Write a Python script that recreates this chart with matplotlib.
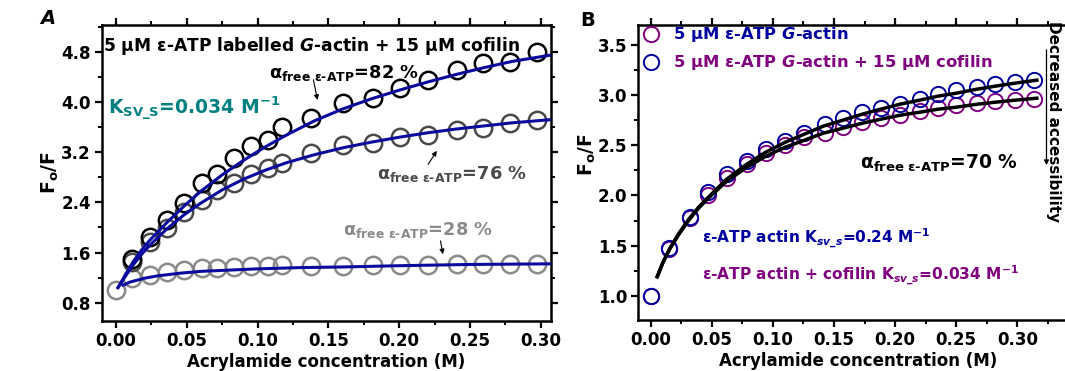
import matplotlib
matplotlib.use("Agg")
import matplotlib.pyplot as plt
from matplotlib.ticker import MultipleLocator

plt.rcParams['font.family'] = ['DejaVu Sans']
plt.rcParams['font.weight'] = 'bold'
plt.rcParams['mathtext.fontset'] = 'custom'
plt.rcParams['mathtext.rm'] = 'DejaVu Sans:bold'
plt.rcParams['mathtext.it'] = 'DejaVu Sans:bold:italic'
plt.rcParams['mathtext.bf'] = 'DejaVu Sans:bold'
plt.rcParams['mathtext.default'] = 'rm'

# ---------------- Panel A data ----------------
xa = [0.0115, 0.024, 0.036, 0.048, 0.0605, 0.071, 0.083, 0.095, 0.107, 0.117,
      0.138, 0.160, 0.1815, 0.2005, 0.220, 0.241, 0.259, 0.278, 0.297]
a_82 = [1.50, 1.85, 2.12, 2.39, 2.71, 2.85, 3.11, 3.30, 3.40, 3.60,
        3.75, 3.99, 4.07, 4.23, 4.35, 4.51, 4.62, 4.64, 4.80]
a_76 = [1.45, 1.77, 1.99, 2.25, 2.44, 2.60, 2.71, 2.85, 2.95, 3.03,
        3.19, 3.32, 3.35, 3.44, 3.48, 3.56, 3.59, 3.67, 3.72]
xa28 = [0.0, 0.0115, 0.024, 0.036, 0.048, 0.0605, 0.071, 0.083, 0.095, 0.107, 0.117,
        0.138, 0.160, 0.1815, 0.2005, 0.220, 0.241, 0.259, 0.278, 0.297]
a_28 = [1.00, 1.19, 1.24, 1.29, 1.32, 1.35, 1.35, 1.37, 1.38, 1.39, 1.40,
        1.38, 1.39, 1.40, 1.40, 1.40, 1.41, 1.41, 1.41, 1.42]

fit_xa = [0.0014, 0.006, 0.012, 0.018, 0.024, 0.036, 0.048, 0.06, 0.075, 0.09, 0.105,
          0.12, 0.14, 0.16, 0.18, 0.20, 0.22, 0.24, 0.26, 0.28, 0.307]
fit_a82 = [1.04, 1.22, 1.45, 1.64, 1.80, 2.08, 2.34, 2.58, 2.84, 3.07, 3.28,
           3.47, 3.70, 3.89, 4.05, 4.19, 4.32, 4.44, 4.55, 4.65, 4.75]
fit_a76 = [1.04, 1.20, 1.40, 1.57, 1.72, 1.98, 2.20, 2.39, 2.60, 2.77, 2.91,
           3.03, 3.16, 3.27, 3.36, 3.44, 3.51, 3.57, 3.62, 3.67, 3.72]
fit_xa28 = [0.005, 0.01, 0.02, 0.03, 0.045, 0.06, 0.08, 0.10, 0.13, 0.16, 0.20, 0.25, 0.307]
fit_a28 = [1.08, 1.13, 1.19, 1.23, 1.27, 1.30, 1.32, 1.34, 1.36, 1.37, 1.39, 1.41, 1.42]

# ---------------- Panel B data ----------------
xb = [0.0, 0.0152, 0.0322, 0.0471, 0.0622, 0.0785, 0.0943, 0.110, 0.1255, 0.1427,
      0.1576, 0.173, 0.1885, 0.204, 0.220, 0.2354, 0.250, 0.2668, 0.282, 0.298, 0.314]
b_actin = [1.00, 1.478, 1.79, 2.03, 2.21, 2.345, 2.46, 2.54, 2.62, 2.717,
           2.777, 2.83, 2.877, 2.916, 2.966, 3.01, 3.05, 3.08, 3.11, 3.13, 3.155]
b_cofilin = [1.00, 1.47, 1.78, 2.00, 2.17, 2.31, 2.42, 2.50, 2.58, 2.62,
             2.68, 2.73, 2.77, 2.80, 2.84, 2.877, 2.90, 2.92, 2.94, 2.955, 2.966]

fit_xb = [0.0054, 0.01, 0.0157, 0.023, 0.031, 0.039, 0.047, 0.062, 0.0785, 0.094, 0.11,
          0.1255, 0.141, 0.157, 0.173, 0.188, 0.204, 0.22, 0.235, 0.25, 0.267, 0.282,
          0.298, 0.316]
fit_b_actin = [1.19, 1.33, 1.47, 1.62, 1.76, 1.88, 1.98, 2.16, 2.31, 2.43, 2.53,
               2.61, 2.69, 2.75, 2.81, 2.86, 2.91, 2.95, 2.99, 3.02, 3.06, 3.09,
               3.12, 3.15]
fit_b_cofilin = [1.19, 1.33, 1.47, 1.61, 1.75, 1.87, 1.97, 2.14, 2.28, 2.39, 2.48,
                 2.55, 2.62, 2.67, 2.72, 2.76, 2.80, 2.83, 2.86, 2.88, 2.91, 2.93,
                 2.95, 2.97]

BLUE_LINE = '#0a0a9e'
DARK_GREY = '#4a4a4a'
LIGHT_GREY = '#8a8a8a'
TEAL = '#008080'
BLUE = '#0000a0'
PURPLE = '#800080'

W, H = 1065, 371
fig = plt.figure(figsize=(W / 100, H / 100), dpi=100)


def px_axes(l, r, t, b):
    return fig.add_axes([l / W, 1 - b / H, (r - l) / W, (b - t) / H])


def style(ax):
    for s in ax.spines.values():
        s.set_linewidth(1.8)
    ax.tick_params(which='major', direction='out', length=5, width=1.6,
                   labelsize=12, pad=3, top=True, right=True)
    ax.tick_params(which='minor', direction='out', length=3, width=1.4,
                   top=True, right=True)
    for lab in ax.get_xticklabels() + ax.get_yticklabels():
        lab.set_fontweight('bold')


ALPHA = r'$\alpha_{\mathrm{free\ ε\text{-}ATP}}$'

# ---------------- Panel A ----------------
axA = px_axes(102, 551, 25, 321)
axA.set_xlim(-0.0099, 0.3072)
axA.set_ylim(0.508, 5.23)
axA.xaxis.set_minor_locator(MultipleLocator(0.025))
axA.yaxis.set_minor_locator(MultipleLocator(0.4))
axA.set_xticks([0.0, 0.05, 0.10, 0.15, 0.20, 0.25, 0.30])
axA.set_xticklabels(['0.00', '0.05', '0.10', '0.15', '0.20', '0.25', '0.30'])
axA.set_yticks([0.8, 1.6, 2.4, 3.2, 4.0, 4.8])
axA.set_yticklabels(['0.8', '1.6', '2.4', '3.2', '4.0', '4.8'])

mk = dict(marker='o', linestyle='none', markersize=12.5, markerfacecolor='none',
          markeredgewidth=1.8)
axA.plot(xa28, a_28, markeredgecolor=LIGHT_GREY, **mk, zorder=3)
axA.plot(xa, a_76, markeredgecolor=DARK_GREY, **mk, zorder=3)
axA.plot(xa, a_82, markeredgecolor='black', **mk, zorder=3)
axA.plot(fit_xa, fit_a82, color=BLUE_LINE, lw=2.2, zorder=4)
axA.plot(fit_xa, fit_a76, color=BLUE_LINE, lw=2.2, zorder=4)
axA.plot(fit_xa28, fit_a28, color=BLUE_LINE, lw=2.2, zorder=4)
style(axA)

axA.set_xlabel('Acrylamide concentration (M)', fontsize=12, fontweight='bold', labelpad=2)
axA.set_ylabel(r'F$_{\mathrm{o}}$/F', fontsize=13.5, fontweight='bold')
axA.yaxis.set_label_coords(-0.092, 0.5)

axA.text(0.003, 0.965, r'5 µM ε-ATP labelled $\mathit{G}$-actin + 15 µM cofilin',
         transform=axA.transAxes, fontsize=12.3, fontweight='bold', va='top', ha='left')
axA.text(-0.006, 3.90, r'K$_{\mathrm{SV\_S}}$=0.034 M$^{\mathrm{-1}}$', color=TEAL,
         fontsize=13.5, fontweight='bold', va='center', ha='left')
axA.text(0.108, 4.47, ALPHA + '=82 %', color='black',
         fontsize=12.8, va='center', ha='left')
axA.annotate('', xy=(0.1427, 3.99), xytext=(0.139, 4.40),
             arrowprops=dict(arrowstyle='-|>', color='black', lw=0.8,
                             mutation_scale=7))
axA.text(0.184, 2.86, ALPHA + '=76 %', color=DARK_GREY,
         fontsize=12.8, va='center', ha='left')
axA.annotate('', xy=(0.2276, 3.26), xytext=(0.2194, 2.97),
             arrowprops=dict(arrowstyle='-|>', color='black', lw=0.8,
                             mutation_scale=7))
axA.text(0.160, 1.96, ALPHA + '=28 %', color=LIGHT_GREY,
         fontsize=12.8, va='center', ha='left')
axA.annotate('', xy=(0.2312, 1.53), xytext=(0.2288, 1.83),
             arrowprops=dict(arrowstyle='-|>', color='black', lw=0.8,
                             mutation_scale=7))

fig.text(48 / W, 1 - 18 / H, 'A', fontsize=14, fontweight='bold', style='italic',
         ha='center', va='center')

# ---------------- Panel B ----------------
axB = px_axes(638.3, 1078.4, 25, 320)
axB.set_xlim(-0.0101, 0.35)
axB.set_ylim(0.758, 3.70)
axB.xaxis.set_minor_locator(MultipleLocator(0.025))
axB.yaxis.set_minor_locator(MultipleLocator(0.25))
axB.set_xticks([0.0, 0.05, 0.10, 0.15, 0.20, 0.25, 0.30])
axB.set_xticklabels(['0.00', '0.05', '0.10', '0.15', '0.20', '0.25', '0.30'])
axB.set_yticks([1.0, 1.5, 2.0, 2.5, 3.0, 3.5])
axB.set_yticklabels(['1.0', '1.5', '2.0', '2.5', '3.0', '3.5'])

mkb = dict(marker='o', linestyle='none', markersize=11, markerfacecolor='none',
           markeredgewidth=1.4)
axB.plot(xb, b_cofilin, markeredgecolor=PURPLE, **mkb, zorder=3)
axB.plot(xb, b_actin, markeredgecolor=BLUE, **mkb, zorder=3)
axB.plot(fit_xb, fit_b_actin, color='black', lw=2.5, zorder=4)
axB.plot(fit_xb, fit_b_cofilin, color='black', lw=2.5, zorder=4)
style(axB)

axB.set_xlabel('Acrylamide concentration (M)', fontsize=12, fontweight='bold', labelpad=2)
axB.set_ylabel(r'F$_{\mathrm{o}}$/F', fontsize=13.5, fontweight='bold')
axB.yaxis.set_label_coords(-0.092, 0.56)

# legend-like entries (handle and text colours as in the original)
axB.plot([0.0], [3.61], **{**mkb, 'markeredgecolor': PURPLE}, clip_on=False, zorder=5)
axB.plot([0.0], [3.33], **{**mkb, 'markeredgecolor': BLUE}, clip_on=False, zorder=5)
axB.text(0.0182, 3.61, r'5 µM ε-ATP $\mathit{G}$-actin', color=BLUE, fontsize=11.8,
         va='center', ha='left')
axB.text(0.0182, 3.33, r'5 µM ε-ATP $\mathit{G}$-actin + 15 µM cofilin', color=PURPLE,
         fontsize=11.8, va='center', ha='left')

axB.text(0.171, 2.32, ALPHA + '=70 %', color='black',
         fontsize=13.5, va='center', ha='left')
axB.text(0.042, 1.57, r'ε-ATP actin K$_{\mathit{sv\_s}}$=0.24 M$^{-1}$', color=BLUE,
         fontsize=11.1, va='center', ha='left')
axB.text(0.042, 1.205, r'ε-ATP actin + cofilin K$_{\mathit{sv\_s}}$=0.034 M$^{-1}$',
         color=PURPLE, fontsize=11.1, va='center', ha='left')

fig.text(1053 / W, 1 - 122 / H, 'Decreased accessibility', rotation=-90,
         fontsize=11, fontweight='bold', ha='center', va='center')
fig.add_artist(matplotlib.patches.FancyArrowPatch(
    (1046.5 / W, 1 - 47 / H), (1046.5 / W, 1 - 168 / H), transform=fig.transFigure,
    arrowstyle='-|>', mutation_scale=7, color='black', lw=0.9))

fig.text(588 / W, 1 - 21 / H, 'B', fontsize=14, fontweight='bold',
         ha='center', va='center')

fig.savefig('out.png', dpi=100)
